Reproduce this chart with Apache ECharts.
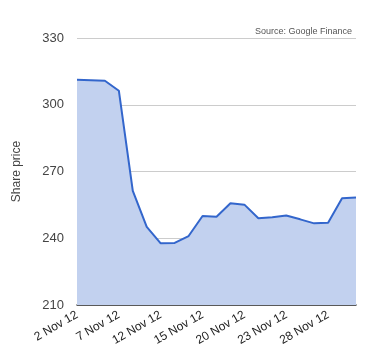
<!DOCTYPE html>
<html><head><meta charset="utf-8">
<script src="https://cdn.jsdelivr.net/npm/echarts@6/dist/echarts.min.js"></script>
<style>html,body{margin:0;padding:0;background:#fff}#c{width:380px;height:360px}</style>
</head><body><div id="c"></div>
<script>
const categories = ["2 Nov 12","5 Nov 12","6 Nov 12","7 Nov 12","8 Nov 12","9 Nov 12","12 Nov 12","13 Nov 12","14 Nov 12","15 Nov 12","16 Nov 12","19 Nov 12","20 Nov 12","21 Nov 12","22 Nov 12","23 Nov 12","26 Nov 12","27 Nov 12","28 Nov 12","29 Nov 12","30 Nov 12"];
const sharePrice = [311.2, 311.0, 310.8, 306.3, 261.3, 245.1, 237.7, 237.9, 241.0, 250.0, 249.7, 255.7, 255.1, 249.0, 249.4, 250.2, 248.5, 246.7, 247.0, 258.0, 258.3];
const yTicks = [210, 240, 270, 300, 330];

const chart = echarts.init(document.getElementById('c'), null, {renderer:'canvas'});
chart.setOption({
  animation:false,
  title:{text:'Source: Google Finance', right:23, top:22, textStyle:{fontSize:9, fontWeight:'normal', color:'#555', fontFamily:'Liberation Sans'}},
  grid:{left:77, right:24, top:38, bottom:55},
  xAxis:{type:'category', data:categories, boundaryGap:false,
    axisLine:{lineStyle:{color:'#333', width:1.5}}, axisTick:{show:false},
    axisLabel:{interval:2, rotate:30, color:'#222', fontSize:12, fontFamily:'Liberation Sans', margin:9},
    splitLine:{show:false}},
  yAxis:{type:'value', min:yTicks[0], max:yTicks[yTicks.length-1], interval:30,
    name:'Share price', nameLocation:'middle', nameGap:54, nameRotate:90,
    nameTextStyle:{color:'#444', fontSize:12, fontFamily:'Liberation Sans'},
    axisLine:{show:false}, axisTick:{show:false},
    axisLabel:{color:'#444', fontSize:13, fontFamily:'Liberation Sans', margin:13},
    splitLine:{lineStyle:{color:'#ccc', width:1}}},
  series:[{type:'line', data:sharePrice, symbol:'none',
    lineStyle:{color:'#3366cc', width:2},
    areaStyle:{color:'#c2d1ef', opacity:1}}]
});
</script></body></html>
